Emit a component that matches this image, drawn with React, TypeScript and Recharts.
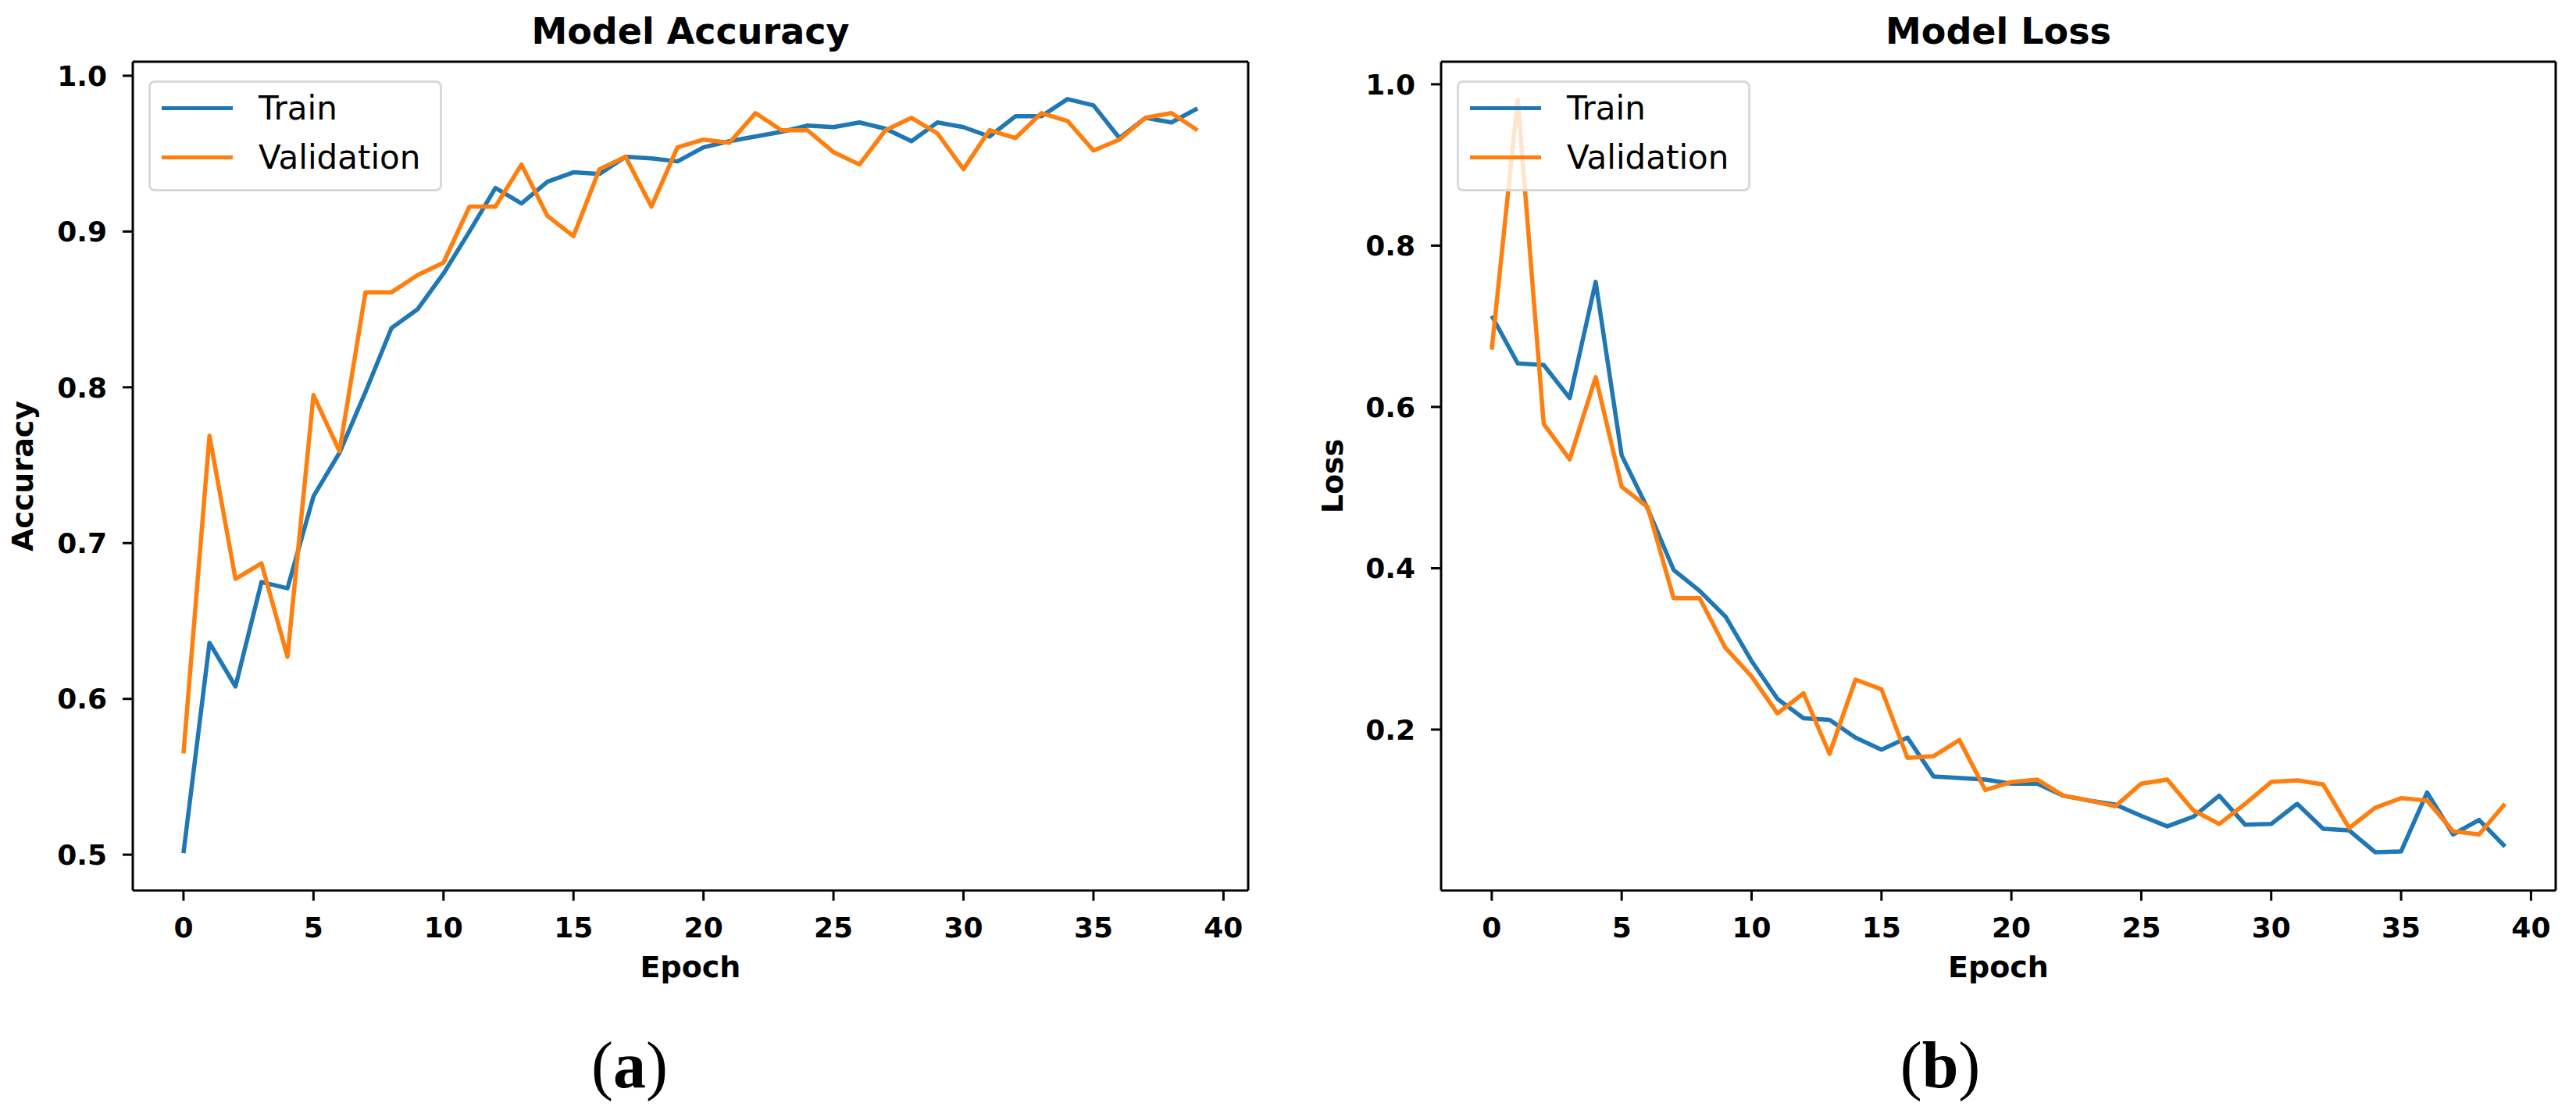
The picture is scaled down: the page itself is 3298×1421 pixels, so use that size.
import React from 'react';
import { LineChart, Line, XAxis, YAxis, Legend, Label } from 'recharts';

const epochs = [
    0, 1, 2, 3, 4, 5, 6, 7, 8, 9, 10, 11, 12, 13, 14, 15, 16, 17, 18, 19,
    20, 21, 22, 23, 24, 25, 26, 27, 28, 29, 30, 31, 32, 33, 34, 35, 36, 37, 38, 39,
];

const accTrain = [
    0.501, 0.636, 0.608, 0.675, 0.671, 0.730, 0.758, 0.797, 0.838, 0.850,
    0.873, 0.900, 0.928, 0.918, 0.932, 0.938, 0.937, 0.948, 0.947, 0.945,
    0.954, 0.958, 0.961, 0.964, 0.968, 0.967, 0.970, 0.966, 0.958, 0.970,
    0.967, 0.961, 0.974, 0.974, 0.985, 0.981, 0.960, 0.973, 0.970, 0.979,
];
const accVal = [
    0.565, 0.769, 0.677, 0.687, 0.627, 0.795, 0.759, 0.861, 0.861, 0.872,
    0.880, 0.916, 0.916, 0.943, 0.910, 0.897, 0.940, 0.948, 0.916, 0.954,
    0.959, 0.957, 0.976, 0.965, 0.965, 0.951, 0.943, 0.965, 0.973, 0.963,
    0.940, 0.965, 0.960, 0.976, 0.971, 0.952, 0.959, 0.973, 0.976, 0.965,
];

const lossTrain = [
    0.713, 0.654, 0.652, 0.611, 0.755, 0.540, 0.474, 0.398, 0.372, 0.340,
    0.285, 0.238, 0.214, 0.212, 0.190, 0.175, 0.190, 0.142, 0.140, 0.138,
    0.133, 0.133, 0.118, 0.112, 0.107, 0.093, 0.080, 0.092, 0.118, 0.082,
    0.083, 0.108, 0.077, 0.075, 0.048, 0.049, 0.122, 0.070, 0.088, 0.055,
];
const lossVal = [
    0.671, 0.981, 0.579, 0.535, 0.637, 0.501, 0.476, 0.363, 0.363, 0.301,
    0.266, 0.220, 0.245, 0.170, 0.262, 0.250, 0.165, 0.167, 0.187, 0.125,
    0.135, 0.138, 0.118, 0.112, 0.105, 0.133, 0.138, 0.100, 0.083, 0.108,
    0.135, 0.137, 0.132, 0.078, 0.103, 0.115, 0.112, 0.074, 0.070, 0.108,
];

const xTicks = [0, 5, 10, 15, 20, 25, 30, 35, 40];
const accTicks = [0.5, 0.6, 0.7, 0.8, 0.9, 1.0];
const lossTicks = [0.2, 0.4, 0.6, 0.8, 1.0];

const BLUE = '#1f77b4';
const ORANGE = '#ff7f0e';
const FONT = '"DejaVu Sans", Verdana, sans-serif';
const X_DOMAIN: [number, number] = [-1.95, 40.95];

const tickStyle = { fill: '#000', fontSize: 36, fontWeight: 'bold', fontFamily: FONT };
const axisLine = { stroke: '#000', strokeWidth: 3 };

// matplotlib-like legend box
const MplLegend = ({ payload }: any) => (
    <div
        style={{
            width: 376,
            height: 142,
            boxSizing: 'border-box',
            border: '3px solid #d9d9d9',
            borderRadius: 8,
            background: 'rgba(255,255,255,0.8)',
            position: 'relative',
            fontFamily: FONT,
        }}
    >
        {(payload || []).map((entry: any, i: number) => (
            <div
                key={entry.value}
                style={{
                    position: 'absolute',
                    left: 14,
                    top: 1 + i * 63,
                    height: 63,
                    display: 'flex',
                    alignItems: 'center',
                }}
            >
                <div style={{ width: 91, height: 5.5, background: entry.color }} />
                <span style={{ marginLeft: 33, fontSize: 42, lineHeight: '63px', color: '#000' }}>
                    {entry.value}
                </span>
            </div>
        ))}
    </div>
);

interface PanelProps {
    title: string;
    yLabel: string;
    train: number[];
    val: number[];
    yDomain: [number, number];
    yTicks: number[];
    width: number;
    yAxisWidth: number;
    rightMargin: number;
    yLabelOffset: number;
}

const Panel: React.FC<PanelProps> = ({
    title, yLabel, train, val, yDomain, yTicks, width, yAxisWidth, rightMargin, yLabelOffset,
}) => {
    const rows = epochs.map((e, i) => ({ epoch: e, train: train[i], val: val[i] }));
    return (
        <LineChart
            width={width}
            height={1421}
            data={rows}
            margin={{ top: 78, right: rightMargin - 1, left: 0, bottom: 161 }}
        >
            <XAxis
                dataKey="epoch"
                type="number"
                domain={X_DOMAIN}
                allowDataOverflow
                ticks={xTicks}
                interval={0}
                height={120}
                tick={tickStyle}
                tickSize={13}
                tickMargin={21}
                tickLine={axisLine}
                axisLine={axisLine}
            >
                <Label
                    value="Epoch"
                    position="insideBottom"
                    offset={9}
                    style={{ fill: '#000', fontSize: 38, fontWeight: 'bold', fontFamily: FONT }}
                />
            </XAxis>
            {/* top and right axes: same scales, they close the frame */}
            <XAxis
                xAxisId="top"
                dataKey="epoch"
                orientation="top"
                type="number"
                domain={X_DOMAIN}
                allowDataOverflow
                height={1}
                tick={false}
                tickLine={false}
                axisLine={axisLine}
            >
                <Label
                    value={title}
                    position="top"
                    offset={22}
                    style={{ fill: '#000', fontSize: 46, fontWeight: 'bold', fontFamily: FONT }}
                />
            </XAxis>
            <YAxis
                type="number"
                domain={yDomain}
                allowDataOverflow
                ticks={yTicks}
                interval={0}
                width={yAxisWidth}
                tick={tickStyle}
                tickFormatter={(v: number) => v.toFixed(1)}
                tickSize={13}
                tickMargin={20}
                tickLine={axisLine}
                axisLine={axisLine}
            >
                <Label
                    value={yLabel}
                    angle={-90}
                    position="insideLeft"
                    offset={yLabelOffset}
                    style={{ textAnchor: 'middle', fill: '#000', fontSize: 38, fontWeight: 'bold', fontFamily: FONT }}
                />
            </YAxis>
            <YAxis
                yAxisId="right"
                orientation="right"
                type="number"
                domain={yDomain}
                allowDataOverflow
                width={1}
                tick={false}
                tickLine={false}
                axisLine={axisLine}
            />
            <Legend
                layout="vertical"
                align="center"
                verticalAlign="middle"
                wrapperStyle={{ left: yAxisWidth + 20, top: 103, width: 376, height: 142 }}
                content={<MplLegend />}
            />
            <Line
                type="linear"
                dataKey="train"
                name="Train"
                stroke={BLUE}
                strokeWidth={5.5}
                strokeLinejoin="round"
                dot={false}
                activeDot={false}
                isAnimationActive={false}
            />
            <Line
                type="linear"
                dataKey="val"
                name="Validation"
                xAxisId="top"
                yAxisId="right"
                stroke={ORANGE}
                strokeWidth={5.5}
                strokeLinejoin="round"
                dot={false}
                activeDot={false}
                isAnimationActive={false}
            />
        </LineChart>
    );
};

const captionStyle: React.CSSProperties = {
    position: 'absolute',
    top: 1322,
    width: 200,
    textAlign: 'center',
    fontFamily: '"Liberation Serif", "DejaVu Serif", serif',
    fontSize: 84,
    lineHeight: '84px',
    color: '#000',
};

export default function App() {
    return (
        <div style={{ position: 'absolute', left: 0, top: 0, width: 3298, height: 1421, background: '#fff', overflow: 'hidden' }}>
            <div style={{ position: 'absolute', left: 0, top: 0 }}>
                <Panel
                    title="Model Accuracy"
                    yLabel="Accuracy"
                    train={accTrain}
                    val={accVal}
                    yDomain={[0.477, 1.009]}
                    yTicks={accTicks}
                    width={1650}
                    yAxisWidth={170}
                    rightMargin={52}
                    yLabelOffset={29}
                />
            </div>
            <div style={{ position: 'absolute', left: 1650, top: 0 }}>
                <Panel
                    title="Model Loss"
                    yLabel="Loss"
                    train={lossTrain}
                    val={lossVal}
                    yDomain={[0.0005, 1.028]}
                    yTicks={lossTicks}
                    width={1648}
                    yAxisWidth={195}
                    rightMargin={26}
                    yLabelOffset={56}
                />
            </div>
            <div style={{ ...captionStyle, left: 806 - 100 }}>
                (<b>a</b>)
            </div>
            <div style={{ ...captionStyle, left: 2484 - 100 }}>
                (<b>b</b>)
            </div>
        </div>
    );
}
